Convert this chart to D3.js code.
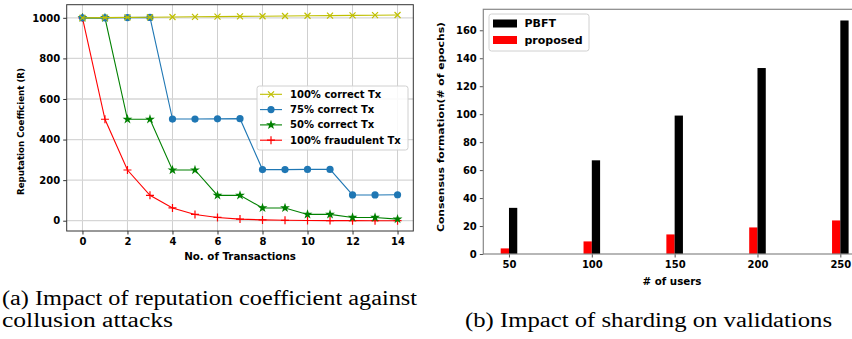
<!DOCTYPE html>
<html>
<head>
<meta charset="utf-8">
<script src="https://cdn.jsdelivr.net/npm/d3@7"></script>
<style>
  body { margin: 0; background: #fff; }
  svg text { font-family: "DejaVu Sans", sans-serif; font-weight: bold; }
  .cap { font-family: "Liberation Serif", "Times New Roman", serif; font-weight: normal; }
</style>
</head>
<body>
<div id="fig"></div>
<script>
// ---- data (left chart) ----
var txNums = [0, 1, 2, 3, 4, 5, 6, 7, 8, 9, 10, 11, 12, 13, 14];
var correct100 = [1000, 1001, 1002, 1003, 1004, 1005, 1006, 1007, 1008, 1009, 1010, 1011, 1012, 1013, 1014];
var correct75 = [1000, 1000, 1001, 1002, 501, 501, 502, 503, 252, 252, 253, 253, 127, 127, 128];
var correct50 = [1000, 1000, 500, 500, 250, 250, 125, 125, 63, 63, 31, 31, 16, 16, 8];
var fraud100 = [1000, 500, 250, 125, 63, 31, 16, 8, 4, 2, 1, 0.5, 0.2, 0.1, 0.05];
var seriesNames = ["100% correct Tx", "75% correct Tx", "50% correct Tx", "100% fraudulent Tx"];
var yTicksA = [0, 200, 400, 600, 800, 1000];
var xTicksA = [0, 2, 4, 6, 8, 10, 12, 14];

// ---- data (right chart) ----
var users = [50, 100, 150, 200, 250];
var pbft = [33, 67, 99, 133, 167];
var proposed = [4, 9, 14, 19, 24];
var yTicksB = [0, 20, 40, 60, 80, 100, 120, 140, 160];

var W = 852, H = 339;
var svg = d3.select("#fig").append("svg")
  .attr("width", W).attr("height", H);

// ================= chart (a) =================
var a = { left: 66.7, right: 413.3, top: 4.7, bottom: 231 };
var xA = d3.scaleLinear().domain([-0.7, 14.7]).range([a.left, a.right]);
var yA = d3.scaleLinear().domain([-50.7, 1064.7]).range([a.bottom, a.top]);

var gA = svg.append("g");

// grid
gA.selectAll(".vgrid").data(xTicksA).enter().append("line")
  .attr("x1", function(d) { return xA(d); }).attr("x2", function(d) { return xA(d); })
  .attr("y1", a.top).attr("y2", a.bottom)
  .attr("stroke", "#cfcfcf").attr("stroke-width", 1);
gA.selectAll(".hgrid").data(yTicksA).enter().append("line")
  .attr("y1", function(d) { return yA(d); }).attr("y2", function(d) { return yA(d); })
  .attr("x1", a.left).attr("x2", a.right)
  .attr("stroke", "#d6d6d6").attr("stroke-width", 1.3);

// axes
var axA_x = gA.append("g").attr("transform", "translate(0," + a.bottom + ")")
  .call(d3.axisBottom(xA).tickValues(xTicksA).tickFormat(d3.format("d")).tickSize(3.5).tickPadding(3));
var axA_y = gA.append("g").attr("transform", "translate(" + a.left + ",0)")
  .call(d3.axisLeft(yA).tickValues(yTicksA).tickFormat(d3.format("d")).tickSize(3.5).tickPadding(3));
[axA_x, axA_y].forEach(function(ax) {
  ax.select(".domain").remove();
  ax.selectAll("text").attr("font-size", 10).attr("fill", "#000");
  ax.selectAll("line").attr("stroke", "#333");
});

var seriesA = [
  { name: seriesNames[0], vals: correct100, color: "#bfbf00", marker: "x" },
  { name: seriesNames[1], vals: correct75, color: "#1f77b4", marker: "o" },
  { name: seriesNames[2], vals: correct50, color: "#008000", marker: "*" },
  { name: seriesNames[3], vals: fraud100, color: "#ff0000", marker: "+" }
];

function drawMarker(g, type, x, y, color) {
  if (type === "o") {
    g.append("circle").attr("cx", x).attr("cy", y).attr("r", 3.6).attr("fill", color);
  } else if (type === "*") {
    g.append("path").attr("d", d3.symbol(d3.symbolStar, 30)())
      .attr("transform", "translate(" + x + "," + y + ")").attr("fill", color);
  } else if (type === "x") {
    g.append("path").attr("d", "M-3,-3L3,3M-3,3L3,-3")
      .attr("transform", "translate(" + x + "," + y + ")")
      .attr("stroke", color).attr("stroke-width", 1.2).attr("fill", "none");
  } else {
    g.append("path").attr("d", "M-4,0L4,0M0,-4L0,4")
      .attr("transform", "translate(" + x + "," + y + ")")
      .attr("stroke", color).attr("stroke-width", 1.2).attr("fill", "none");
  }
}

var line = d3.line()
  .x(function(d, i) { return xA(txNums[i]); })
  .y(function(d) { return yA(d); });

// draw in reverse so yellow sits on top like the reference
seriesA.slice().reverse().forEach(function(s) {
  gA.append("path").datum(s.vals).attr("d", line)
    .attr("fill", "none").attr("stroke", s.color).attr("stroke-width", 1.1);
  s.vals.forEach(function(v, i) { drawMarker(gA, s.marker, xA(txNums[i]), yA(v), s.color); });
});

// frame
gA.append("rect").attr("x", a.left).attr("y", a.top)
  .attr("width", a.right - a.left).attr("height", a.bottom - a.top)
  .attr("fill", "none").attr("stroke", "#333").attr("stroke-width", 1);

// legend
var legA = gA.append("g").attr("transform", "translate(257,86)");
legA.append("rect").attr("width", 151).attr("height", 64).attr("rx", 2.5)
  .attr("fill", "#fff").attr("fill-opacity", 0.85).attr("stroke", "#d0d0d0");
seriesA.forEach(function(s, i) {
  var yy = 8.3 + i * 15.3;
  legA.append("line").attr("x1", 3).attr("x2", 25).attr("y1", yy).attr("y2", yy)
    .attr("stroke", s.color).attr("stroke-width", 1.1);
  drawMarker(legA, s.marker, 14, yy, s.color);
  legA.append("text").attr("x", 33).attr("y", yy).attr("dy", "0.35em")
    .attr("font-size", 10).text(s.name);
});

// labels
gA.append("text").attr("x", 240).attr("y", 260).attr("text-anchor", "middle")
  .attr("font-size", 10.3).text("No. of Transactions");
gA.append("text").attr("transform", "translate(24,131.5) rotate(-90)")
  .attr("text-anchor", "middle").attr("font-size", 8.7)
  .attr("textLength", 127).attr("lengthAdjust", "spacingAndGlyphs")
  .text("Reputation Coefficient (R)");

// ================= chart (b) =================
var b = { left: 483.3, right: 866, top: 9.3, bottom: 254 };
var xB = d3.scaleLinear().domain([34.5, 265.5]).range([b.left, b.right]);
var yB = d3.scaleLinear().domain([0, 175]).range([b.bottom, b.top]);
var barW = 5;

var gB = svg.append("g");

gB.selectAll(".bp").data(users).enter().append("rect")
  .attr("x", function(d) { return xB(d - barW); })
  .attr("width", function(d) { return xB(d) - xB(d - barW); })
  .attr("y", function(d, i) { return yB(proposed[i]); })
  .attr("height", function(d, i) { return yB(0) - yB(proposed[i]); })
  .attr("fill", "#ff0000");
gB.selectAll(".bb").data(users).enter().append("rect")
  .attr("x", function(d) { return xB(d); })
  .attr("width", function(d) { return xB(d + barW) - xB(d); })
  .attr("y", function(d, i) { return yB(pbft[i]); })
  .attr("height", function(d, i) { return yB(0) - yB(pbft[i]); })
  .attr("fill", "#000");

var axB_x = gB.append("g").attr("transform", "translate(0," + b.bottom + ")")
  .call(d3.axisBottom(xB).tickValues(users).tickSize(3.5).tickPadding(3));
var axB_y = gB.append("g").attr("transform", "translate(" + b.left + ",0)")
  .call(d3.axisLeft(yB).tickValues(yTicksB).tickSize(3.5).tickPadding(3));
[axB_x, axB_y].forEach(function(ax) {
  ax.select(".domain").remove();
  ax.selectAll("text").attr("font-size", 10).attr("fill", "#000");
  ax.selectAll("line").attr("stroke", "#555");
});

gB.append("rect").attr("x", b.left).attr("y", b.top)
  .attr("width", b.right - b.left).attr("height", b.bottom - b.top)
  .attr("fill", "none").attr("stroke", "#888").attr("stroke-width", 1.2);

var legB = gB.append("g").attr("transform", "translate(489,14)");
legB.append("rect").attr("width", 100).attr("height", 37).attr("rx", 2.5)
  .attr("fill", "#fff").attr("stroke", "#d0d0d0");
[["PBFT", "#000"], ["proposed", "#ff0000"]].forEach(function(e, i) {
  var yy = 9.5 + i * 16.5;
  legB.append("rect").attr("x", 4).attr("y", yy - 4).attr("width", 24).attr("height", 8)
    .attr("fill", e[1]);
  legB.append("text").attr("x", 35.5).attr("y", yy).attr("dy", "0.35em")
    .attr("font-size", 11).text(e[0]);
});

gB.append("text").attr("x", 672).attr("y", 285).attr("text-anchor", "middle")
  .attr("font-size", 10.3).text("# of users");
gB.append("text").attr("transform", "translate(444,127) rotate(-90)")
  .attr("text-anchor", "middle").attr("font-size", 9.2)
  .attr("textLength", 210).attr("lengthAdjust", "spacingAndGlyphs")
  .text("Consensus formation(# of epochs)");

// ================= captions =================
function caption(x, y, len, txt) {
  svg.append("text").attr("class", "cap").attr("x", x).attr("y", y)
    .attr("font-size", 20).attr("textLength", len).attr("lengthAdjust", "spacingAndGlyphs")
    .text(txt);
}
caption(2, 305, 415, "(a) Impact of reputation coefficient against");
caption(2, 327, 171, "collusion attacks");
caption(465, 327, 367, "(b) Impact of sharding on validations");
</script>
</body>
</html>
